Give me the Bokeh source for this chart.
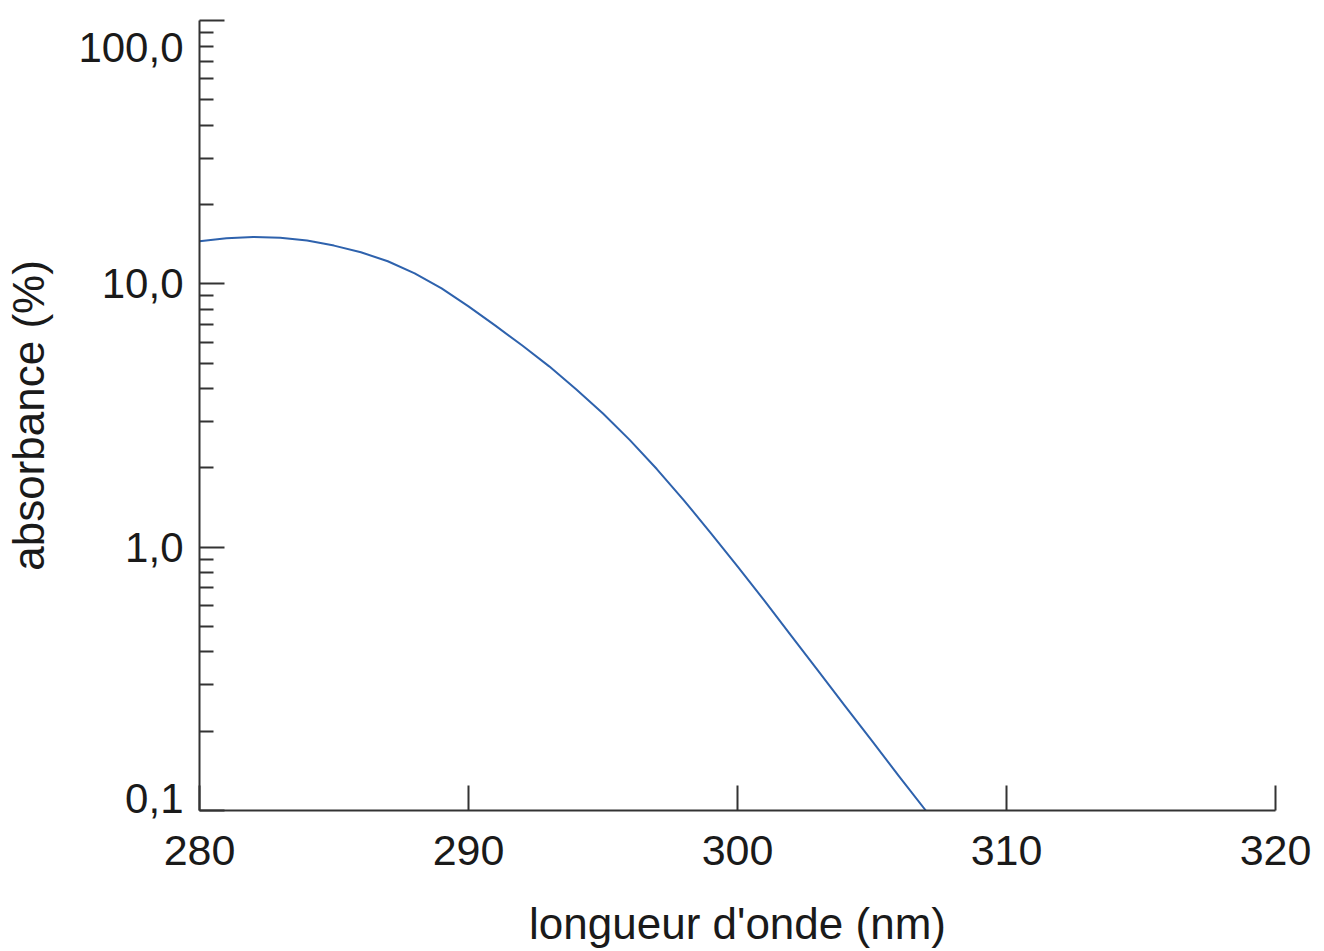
from bokeh.plotting import figure
from bokeh.models import FixedTicker, Range1d
from bokeh.embed import file_html
from bokeh.resources import INLINE

# Data
wavelength_nm = [280, 281, 282, 283, 284, 285, 286, 287, 288, 289,
                 290, 291, 292, 293, 294, 295, 296, 297, 298, 299,
                 300, 301, 302, 303, 304, 305, 306, 307]
absorbance_pct = [14.5, 14.9, 15.06, 14.96, 14.6, 13.97, 13.18, 12.18, 10.96, 9.61,
                  8.21, 6.94, 5.83, 4.86, 3.98, 3.22, 2.55, 1.98, 1.51, 1.134,
                  0.846, 0.626, 0.460, 0.339, 0.249, 0.184, 0.135, 0.100]

x_ticks = [280, 290, 300, 310, 320]
y_major_ticks = [0.1, 1.0, 10.0, 100.0]
y_tick_labels = ["0,1", "1,0", "10,0", "100,0"]
y_minor_ticks = [0.2, 0.3, 0.4, 0.5, 0.6, 0.7, 0.8, 0.9,
                 2, 3, 4, 5, 6, 7, 8, 9,
                 20, 30, 40, 50, 60, 70, 80, 90]

FONT = "Liberation Sans"
AXIS_COLOR = "#333333"
TEXT_COLOR = "#1a1a1a"

p = figure(
    y_axis_type="log",
    frame_width=1076, frame_height=790,
    min_border_left=199, min_border_top=20, min_border_right=40, min_border_bottom=130,
    x_range=Range1d(280, 320), y_range=Range1d(0.1, 100),
    output_backend="svg", toolbar_location=None,
)
p.outline_line_color = None
p.xgrid.visible = False
p.ygrid.visible = False
p.background_fill_color = "white"
p.border_fill_color = "white"

p.line(wavelength_nm, absorbance_pct, line_color="#2e62ad", line_width=2,
       line_join="round")

xa = p.xaxis[0]
xa.ticker = FixedTicker(ticks=x_ticks, minor_ticks=[])
xa.axis_label = "longueur d'onde (nm)"
xa.axis_line_color = AXIS_COLOR
xa.axis_line_width = 2
xa.major_tick_line_color = AXIS_COLOR
xa.major_tick_line_width = 2
xa.major_tick_in = 25
xa.major_tick_out = 0
xa.minor_tick_line_color = None
xa.major_label_text_font = FONT
xa.major_label_text_font_size = "43px"
xa.major_label_text_color = TEXT_COLOR
xa.major_label_standoff = 25
xa.axis_label_text_font = FONT
xa.axis_label_text_font_size = "44px"
xa.axis_label_text_font_style = "normal"
xa.axis_label_text_color = TEXT_COLOR
xa.axis_label_standoff = 31

# end labels sit inside the axis height (as in the reference): pad them with
# blank lines so they move inwards
overrides = dict(zip(y_major_ticks, y_tick_labels))
overrides[y_major_ticks[0]] = overrides[y_major_ticks[0]] + "\n"
overrides[y_major_ticks[-1]] = "\n" + overrides[y_major_ticks[-1]] + "\n"

ya = p.yaxis[0]
ya.ticker = FixedTicker(ticks=y_major_ticks, minor_ticks=y_minor_ticks)
ya.major_label_overrides = overrides
ya.axis_label = "absorbance (%)"
ya.axis_line_color = AXIS_COLOR
ya.axis_line_width = 2
ya.major_tick_line_color = AXIS_COLOR
ya.major_tick_line_width = 2
ya.major_tick_in = 25
ya.major_tick_out = 0
ya.minor_tick_line_color = AXIS_COLOR
ya.minor_tick_line_width = 2
ya.minor_tick_in = 14
ya.minor_tick_out = 0
ya.major_label_text_font = FONT
ya.major_label_text_font_size = "42px"
ya.major_label_text_line_height = 0.5
ya.major_label_text_color = TEXT_COLOR
ya.major_label_standoff = 16
ya.axis_label_text_font = FONT
ya.axis_label_text_font_size = "44px"
ya.axis_label_text_font_style = "normal"
ya.axis_label_text_color = TEXT_COLOR
ya.axis_label_standoff = 22

open("out.html", "w").write(file_html(p, INLINE))
